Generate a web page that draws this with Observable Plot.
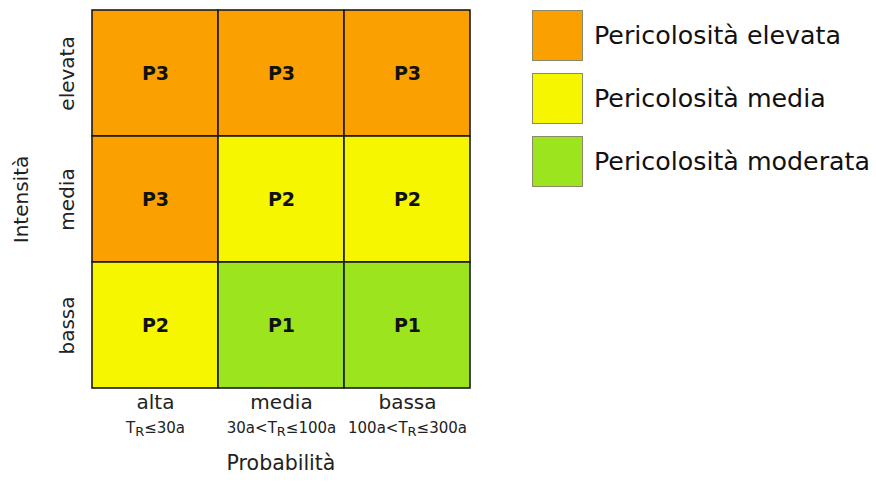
<!DOCTYPE html>
<html>
<head>
<meta charset="utf-8">
<script src="https://cdn.jsdelivr.net/npm/d3@7"></script>
<script src="https://cdn.jsdelivr.net/npm/@observablehq/plot@0.6"></script>
<style>
  html, body { margin: 0; padding: 0; background: #fff; }
  #wrap { position: relative; width: 876px; height: 486px; font-family: "DejaVu Sans", sans-serif; }
  #legend { position: absolute; left: 532px; top: 9px; }
  .item { display: flex; align-items: center; height: 52px; margin-bottom: 11px; }
  .sw { width: 51px; height: 51px; box-sizing: border-box; border: 1px solid #8a8a6a; margin-right: 11px; }
  .lab { font-size: 25.3px; color: #111; white-space: nowrap; }
</style>
</head>
<body>
<div id="wrap"></div>
<script>
// Data
const probabilita = ["alta", "media", "bassa"];
const probSub = ["T_R≤30a", "30a<T_R≤100a", "100a<T_R≤300a"];
const intensita = ["elevata", "media", "bassa"];
// livello di pericolosità per riga di intensità (colonne: probabilità alta, media, bassa)
const rowElevata = ["P3", "P3", "P3"];
const rowMedia = ["P3", "P2", "P2"];
const rowBassa = ["P2", "P1", "P1"];
const livelli = ["P3", "P2", "P1"];
const livelliNomi = ["Pericolosità elevata", "Pericolosità media", "Pericolosità moderata"];
const colori = ["#FAA000", "#F6F600", "#9BE41E"];

const rows = [rowElevata, rowMedia, rowBassa];
const cells = [];
intensita.forEach((int, r) => probabilita.forEach((p, c) => cells.push({prob: p, int: int, level: rows[r][c]})));

const font = "DejaVu Sans";
const chart = Plot.plot({
  width: 876,
  height: 486,
  marginLeft: 91,
  marginRight: 406,
  marginTop: 10,
  marginBottom: 98,
  style: {fontFamily: font, background: "transparent", overflow: "visible"},
  x: {domain: probabilita, padding: 0, axis: null},
  y: {domain: intensita, padding: 0, axis: null},
  color: {domain: livelli, range: colori},
  marks: [
    Plot.cell(cells, {x: "prob", y: "int", fill: "level", stroke: "#1b1b1b", strokeWidth: 1.6}),
    Plot.text(cells, {x: "prob", y: "int", text: "level", fontSize: 19, fontWeight: "bold", fill: "#111"}),
    Plot.text(probabilita, {x: d => d, frameAnchor: "bottom", dy: 20, fontSize: 20, fill: "#222"}),
    Plot.text(probabilita, {x: d => d, text: (d, i) => probSub[i], frameAnchor: "bottom", dy: 44, fontSize: 15, fill: "#222"}),
    Plot.text(["Probabilità"], {frameAnchor: "bottom", dy: 81, fontSize: 20.5, fill: "#222"}),
    Plot.text(intensita, {y: d => d, frameAnchor: "left", textAnchor: "middle", dx: -24, rotate: -90, fontSize: 20, fill: "#222"}),
    Plot.text(["Intensità"], {frameAnchor: "left", textAnchor: "middle", dx: -70, rotate: -90, fontSize: 20, fill: "#222"})
  ]
});

// subscript R
d3.select(chart).selectAll("text").each(function() {
  const t = this.textContent;
  if (t.includes("T_R")) {
    const [a, b] = t.split("T_R");
    const sel = d3.select(this);
    sel.text(null);
    sel.append("tspan").text(a + "T");
    sel.append("tspan").attr("dy", 3).attr("font-size", 13).text("R");
    sel.append("tspan").attr("dy", -3).text(b);
  }
});

const wrap = document.getElementById("wrap");
wrap.appendChild(chart);
const legend = document.createElement("div");
legend.id = "legend";
livelli.forEach((l, i) => {
  const it = document.createElement("div");
  it.className = "item";
  const sw = document.createElement("div");
  sw.className = "sw";
  sw.style.background = colori[i];
  const lab = document.createElement("span");
  lab.className = "lab";
  lab.textContent = livelliNomi[i];
  it.appendChild(sw);
  it.appendChild(lab);
  legend.appendChild(it);
});
wrap.appendChild(legend);
</script>
</body>
</html>
